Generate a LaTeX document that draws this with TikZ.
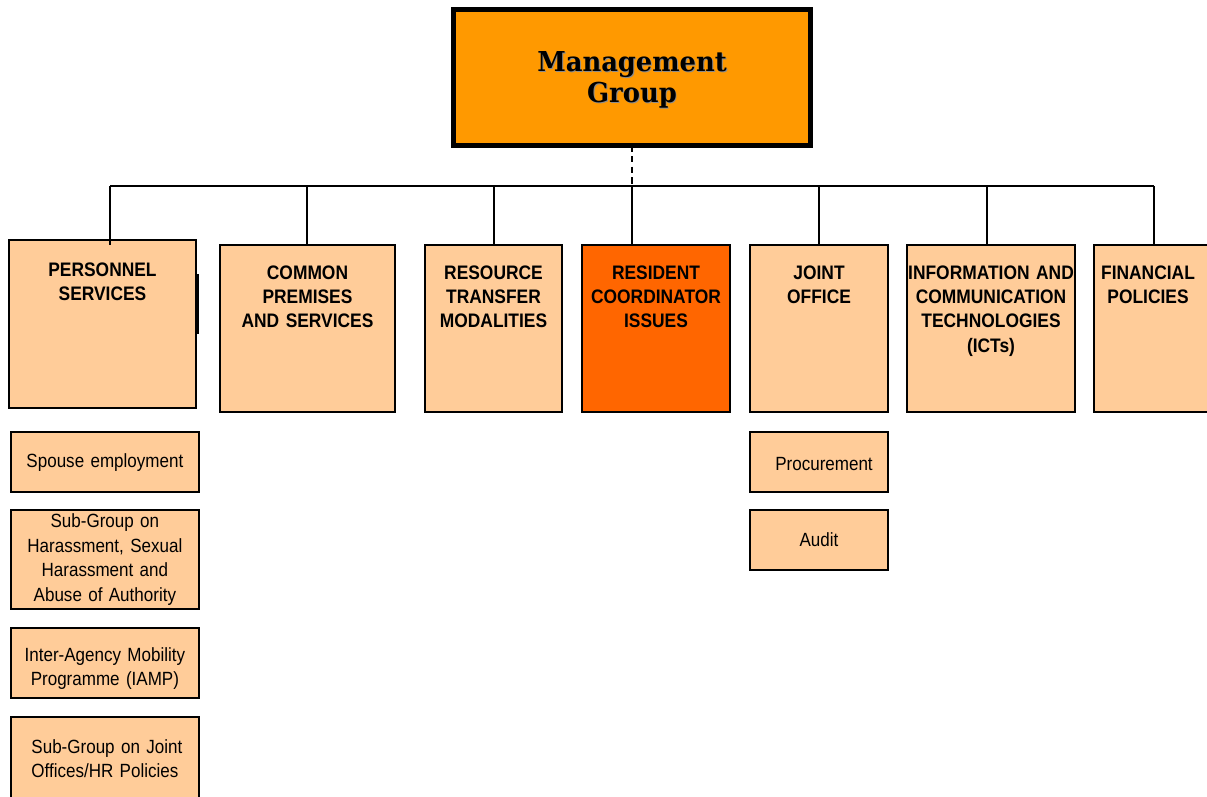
\documentclass[tikz,border=0pt]{standalone}
\usepackage{fontspec}
\setmainfont{Liberation Sans}[FakeStretch=0.89]
\newfontfamily\mgfont{DejaVu Serif}[FakeStretch=0.94]
\usepackage{xcolor}
\usetikzlibrary{positioning}
\definecolor{peach}{HTML}{FFCC99}
\definecolor{mgorange}{HTML}{FF9900}
\definecolor{rcorange}{HTML}{FF6600}
\newcommand{\shade}[1]{\makebox[0pt][l]{\raisebox{-0.7pt}{\hspace{0.7pt}\textcolor{black!45}{#1}}}#1}
\tikzstyle{mgbox} = [rectangle, draw=black, line width=3.6pt, fill=mgorange, inner sep=0pt, outer sep=0pt, anchor=north, text width=8.9cm, align=center, text height=1.55cm, text depth=1.85cm, font=\mgfont\bfseries\fontsize{19.5}{22}\selectfont]
\tikzstyle{group} = [rectangle, draw=black, line width=1.4pt, fill=peach, inner sep=0pt, outer sep=0pt, anchor=north, align=center, text height=0.85cm, text depth=3.325cm, font=\bfseries\fontsize{13.9}{17.4}\selectfont]
\tikzstyle{task} = [rectangle, draw=black, line width=1.4pt, fill=peach, inner sep=0pt, outer sep=0pt, align=center, font=\fontsize{13.6}{17.4}\selectfont]
\tikzstyle{link} = [line width=1.4pt]

\begin{document}
\begin{tikzpicture}[x=0.025cm, y=-0.025cm]
		\useasboundingbox (0,0) rectangle (1207,796);
		\node (mg) [mgbox] at (632,9.5) {\shade{Management}\\\shade{Group}};
		
		%groups
		\node (pers) [group, text width=4.675cm, text height=0.9cm, text depth=3.3cm] at (102.5,240) {PERSONNEL\\SERVICES};
		\node (prem) [group, text width=4.375cm] at (307.5,245) {COMMON\\PREMISES\\AND SERVICES};
		\node (rtm) [group, text width=3.425cm] at (493.5,245) {RESOURCE\\TRANSFER\\MODALITIES};
		\node (rci) [group, text width=3.7cm, fill=rcorange] at (656,245) {RESIDENT\\COORDINATOR\\ISSUES};
		\node (jo) [group, text width=3.45cm] at (819,245) {JOINT\\OFFICE};
		\node (ict) [group, text width=4.2cm] at (991,245) {INFORMATION AND\\COMMUNICATION\\TECHNOLOGIES\\(ICTs)};
		\node (fin) [group, text width=3cm] at (1154,245) {\hspace*{-0.3cm}FINANCIAL\\\hspace*{-0.3cm}POLICIES};
		
		%sub groups
		\node (spouse) [task, text width=4.7cm, minimum height=1.5cm, below=0.6cm of pers, xshift=0.06cm] {Spouse employment\\[-0.2cm]};
		\node (harass) [task, text width=4.7cm, minimum height=2.475cm, below=0.45cm of spouse] {Sub-Group on\\Harassment, Sexual\\Harassment and\\Abuse of Authority};
		\node (iamp) [task, text width=4.7cm, text height=0.825cm, text depth=0.925cm, below=0.475cm of harass] {Inter-Agency Mobility\\Programme (IAMP)};
		\node (hrpol) [task, text width=4.7cm, minimum height=2.075cm, below=0.475cm of iamp] {\hspace*{0.1cm}Sub-Group on Joint\\Offices/HR Policies};
		\node (proc) [task, text width=3.45cm, minimum height=1.5cm, below=0.5cm of jo] {\\[-0.2cm]\hspace*{0.25cm}Procurement};
		\node (audit) [task, text width=3.45cm, minimum height=1.5cm, below=0.45cm of proc] {Audit};
		
		%bus
		\coordinate (b0) at (632,186);
		\coordinate (b1) at (110,186);
		\coordinate (b2) at (307,186);
		\coordinate (b3) at (494,186);
		\coordinate (b5) at (819,186);
		\coordinate (b6) at (987,186);
		\coordinate (b7) at (1154,186);
		\draw [link, dash pattern=on 4.5pt off 3pt](mg.south) -- (b0);
		\draw [link](b1) -- (b7);
		\draw [link](b1) -- ([yshift=-0.12cm]b1 |- pers.north);
		\draw [link](b2) -- (b2 |- prem.north);
		\draw [link](b3) -- (b3 |- rtm.north);
		\draw [link](b0) -- (b0 |- rci.north);
		\draw [link](b5) -- (b5 |- jo.north);
		\draw [link](b6) -- (b6 |- ict.north);
		\draw [link](b7) -- (b7 |- fin.north);
		\draw [line width=1.6pt]([xshift=0.05cm,yshift=-0.85cm]pers.north east) -- ([xshift=0.05cm,yshift=-2.35cm]pers.north east);
	\end{tikzpicture}
\end{document}
